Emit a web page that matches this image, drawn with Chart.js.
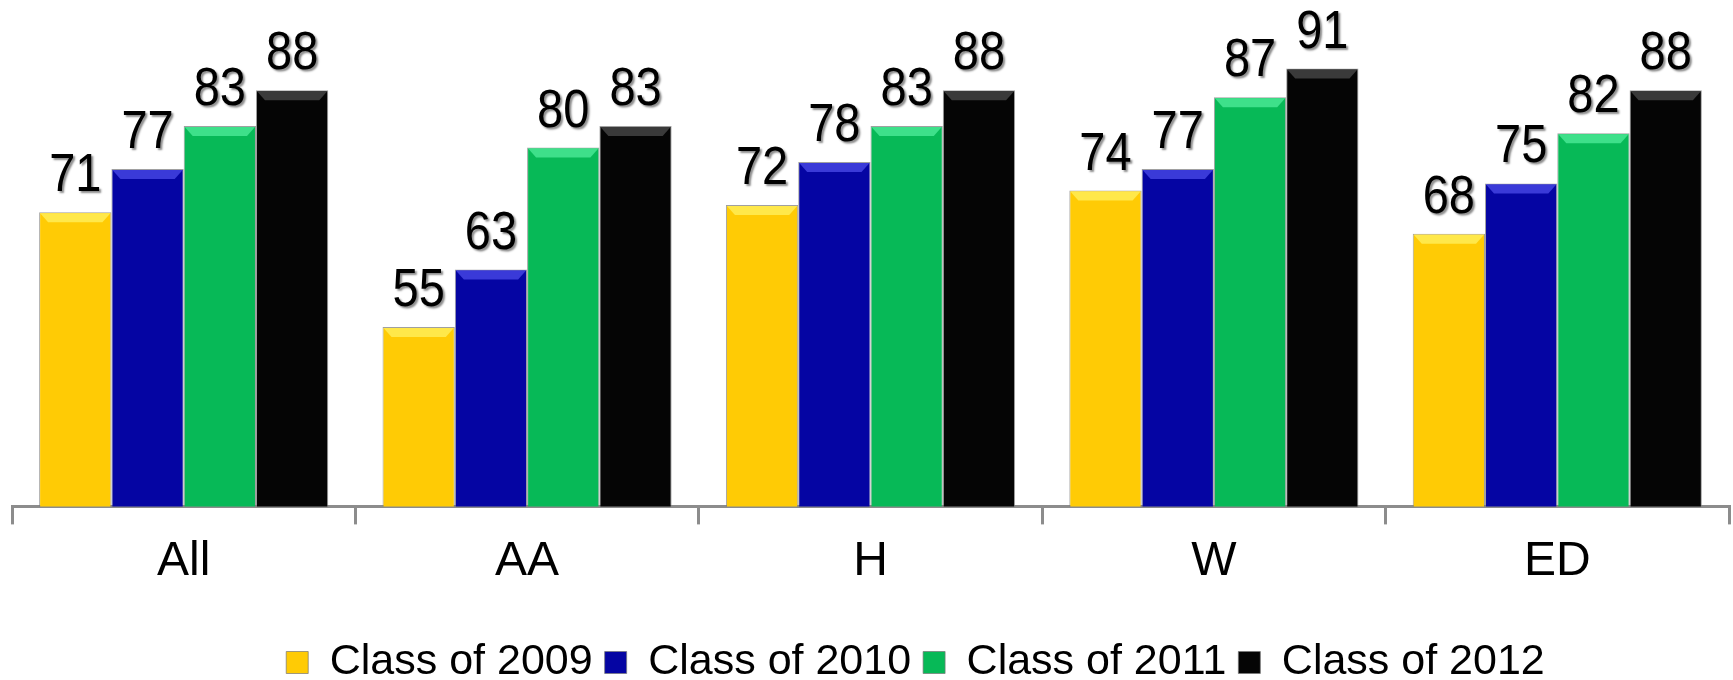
<!DOCTYPE html>
<html>
<head>
<meta charset="utf-8">
<script src="https://cdn.jsdelivr.net/npm/chart.js@4"></script>
<style>
  html, body { margin: 0; padding: 0; background: #fff; }
  #wrap { width: 1733px; height: 680px; }
</style>
</head>
<body>
<div id="wrap"><canvas id="myChart"></canvas></div>
<script>
const categories = ['All', 'AA', 'H', 'W', 'ED'];
const seriesNames = ['Class of 2009', 'Class of 2010', 'Class of 2011', 'Class of 2012'];
const class2009 = [71, 55, 72, 74, 68];
const class2010 = [77, 63, 78, 77, 75];
const class2011 = [83, 80, 83, 87, 82];
const class2012 = [88, 83, 88, 91, 88];
const barColors = ['#FFCB05', '#0505A3', '#07B957', '#050505'];
const bevelColors = ['#FFE84A', '#3A3AD8', '#3EE08A', '#3A3A3A'];

const FONT = '"Liberation Sans", Arial, sans-serif';

// value labels above each bar + a small bevel on top of the bars
const barDecor = {
    id: 'barDecor',
    afterDatasetsDraw(chart) {
        const ctx = chart.ctx;
        chart.data.datasets.forEach((ds, d) => {
            const meta = chart.getDatasetMeta(d);
            meta.data.forEach((bar, i) => {
                const half = bar.width / 2;
                const left = bar.x - half, right = bar.x + half, top = bar.y;
                ctx.save();
                ctx.fillStyle = bevelColors[d];
                ctx.beginPath();
                ctx.moveTo(left + 1, top + 1);
                ctx.lineTo(right - 1, top + 1);
                ctx.lineTo(right - 9, top + 10);
                ctx.lineTo(left + 9, top + 10);
                ctx.closePath();
                ctx.fill();
                ctx.restore();

                // digits in the original are a bit taller than wide
                ctx.save();
                ctx.translate(bar.x, top - 21);
                ctx.scale(1, 1.15);
                ctx.font = '47px ' + FONT;
                ctx.fillStyle = '#000';
                ctx.textAlign = 'center';
                ctx.textBaseline = 'alphabetic';
                ctx.shadowColor = 'rgba(0,0,0,0.45)';
                ctx.shadowOffsetX = 2;
                ctx.shadowOffsetY = 2;
                ctx.shadowBlur = 2;
                ctx.fillText(ds.data[i], 0, 0);
                ctx.restore();
            });
        });
    }
};

// move the legend a bit lower and to the right, like the original
const legendShift = {
    id: 'legendShift',
    afterLayout(chart) {
        const lg = chart.legend;
        lg.left += 45; lg.right += 45;
        lg.top += 29; lg.bottom += 29;
    }
};

new Chart(document.getElementById('myChart'), {
    type: 'bar',
    data: {
        labels: categories,
        datasets: [
            { label: seriesNames[0], data: class2009, backgroundColor: barColors[0] },
            { label: seriesNames[1], data: class2010, backgroundColor: barColors[1] },
            { label: seriesNames[2], data: class2011, backgroundColor: barColors[2] },
            { label: seriesNames[3], data: class2012, backgroundColor: barColors[3] }
        ]
    },
    options: {
        responsive: true,
        maintainAspectRatio: false,
        animation: false,
        datasets: {
            bar: {
                categoryPercentage: 0.842,
                barPercentage: 1.0,
                borderColor: 'rgba(120,120,120,0.7)',
                borderWidth: 1
            }
        },
        layout: {
            padding: { left: 12, right: 4, top: 4, bottom: 15 }
        },
        scales: {
            x: {
                grid: {
                    offset: true,
                    drawOnChartArea: false,
                    drawTicks: true,
                    tickLength: 18,
                    color: '#8c8c8c',
                    lineWidth: 3
                },
                border: { display: true, color: '#8c8c8c', width: 3 },
                ticks: {
                    color: '#000',
                    padding: 9,
                    font: { family: FONT, size: 48 }
                }
            },
            y: {
                display: false,
                min: 30,
                max: 100
            }
        },
        plugins: {
            legend: {
                position: 'bottom',
                labels: {
                    color: '#000',
                    boxWidth: 22,
                    boxHeight: 22,
                    padding: 12,
                    font: { family: FONT, size: 43 }
                }
            },
            tooltip: { enabled: false }
        }
    },
    plugins: [barDecor, legendShift]
});
</script>
</body>
</html>
